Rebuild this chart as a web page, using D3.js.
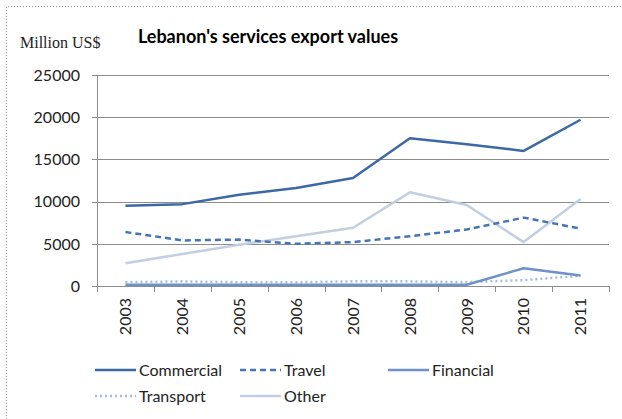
<!DOCTYPE html>
<html>
<head>
<meta charset="utf-8">
<script src="https://cdn.jsdelivr.net/npm/d3@7"></script>
<style>
  body { margin: 0; background: #fff; }
</style>
</head>
<body>
<div id="chart"></div>
<script>
'use strict'

// data
const years = ['2003', '2004', '2005', '2006', '2007', '2008', '2009', '2010', '2011']
const commercial = [9500, 9700, 10800, 11600, 12800, 17500, 16800, 16000, 19700]
const travel = [6400, 5400, 5500, 5000, 5200, 5900, 6700, 8100, 6800]
const financial = [150, 150, 150, 150, 150, 150, 150, 2100, 1250]
const transport = [450, 550, 450, 450, 550, 550, 450, 700, 1200]
const other = [2700, 3800, 4900, 5900, 6900, 11100, 9600, 5200, 10300]
const yTicks = [0, 5000, 10000, 15000, 20000, 25000]

const series = [
    { name: 'Commercial', values: commercial, color: '#3c68a4', dash: null, width: 2.5 },
    { name: 'Travel', values: travel, color: '#4575b4', dash: '6,4', width: 2.5 },
    { name: 'Financial', values: financial, color: '#6e91c8', dash: null, width: 2.5 },
    { name: 'Transport', values: transport, color: '#a5bbdc', dash: '2,3', width: 2.5 },
    { name: 'Other', values: other, color: '#c3cee2', dash: null, width: 2.5 }
]

////////////////////////////////////
//////////// svg setup /////////////
////////////////////////////////////

const svgWidth = 622
const svgHeight = 419
const margin = { left: 97, right: 13, top: 75, bottom: 133 }
const width = svgWidth - margin.left - margin.right
const height = svgHeight - margin.top - margin.bottom

const root = d3.select('#chart')
    .append('svg')
    .attr('width', svgWidth)
    .attr('height', svgHeight)

// dotted frame
root.append('path')
    .attr('d', 'M6.5,' + svgHeight + ' V6.5 H' + svgWidth)
    .attr('fill', 'none')
    .attr('stroke', '#9a9a9a')
    .attr('stroke-dasharray', '1,2')

const svg = root.append('g')
    .attr('transform', 'translate(' + margin.left + ',' + margin.top + ')')

////////////////////////////////////
//////////// Scales ////////////////
////////////////////////////////////

const x = d3.scaleBand().domain(years).range([0, width]).padding(0)
const y = d3.scaleLinear().domain([0, 25000]).range([height, 0])

////////////////////////////////////
//////////// axis //////////////////
////////////////////////////////////

const tickFont = 'Lato, "Liberation Sans", sans-serif'

svg.append('g')
    .selectAll('line')
    .data(yTicks.filter(d => d > 0))
    .join('line')
    .attr('x1', 0)
    .attr('x2', width)
    .attr('y1', d => Math.round(y(d)) + 0.5)
    .attr('y2', d => Math.round(y(d)) + 0.5)
    .attr('stroke', '#8c8c8c')

svg.append('g')
    .selectAll('text')
    .data(yTicks)
    .join('text')
    .attr('x', -17)
    .attr('y', d => y(d))
    .attr('dy', '0.36em')
    .attr('text-anchor', 'end')
    .style('font-family', tickFont)
    .style('font-size', '16px')
    .attr('fill', '#222')
    .text(d => d)

// left axis line
svg.append('line')
    .attr('x1', 0.5).attr('x2', 0.5)
    .attr('y1', 0).attr('y2', height)
    .attr('stroke', '#8c8c8c')

// y ticks (small, left)
svg.append('g')
    .selectAll('line')
    .data(yTicks)
    .join('line')
    .attr('x1', -5).attr('x2', 0)
    .attr('y1', d => Math.round(y(d)) + 0.5)
    .attr('y2', d => Math.round(y(d)) + 0.5)
    .attr('stroke', '#8c8c8c')

// x baseline
svg.append('line')
    .attr('x1', 0).attr('x2', width)
    .attr('y1', Math.round(height) + 0.5).attr('y2', Math.round(height) + 0.5)
    .attr('stroke', '#8c8c8c')

// x boundary ticks
const bounds = years.map(d => x(d)).concat([width])
svg.append('g')
    .selectAll('line')
    .data(bounds)
    .join('line')
    .attr('x1', d => Math.round(d) + 0.5)
    .attr('x2', d => Math.round(d) + 0.5)
    .attr('y1', height)
    .attr('y2', height + 6)
    .attr('stroke', '#8c8c8c')

svg.append('g')
    .selectAll('text')
    .data(years)
    .join('text')
    .attr('transform', d => 'translate(' + (x(d) + x.bandwidth() / 2) + ',' + (height + 12) + ') rotate(-90)')
    .attr('dy', '0.36em')
    .attr('text-anchor', 'end')
    .style('font-family', tickFont)
    .style('font-size', '16px')
    .attr('fill', '#222')
    .text(d => d)

////////////////////////////////////
//////////// lines /////////////////
////////////////////////////////////

const line = d3.line()
    .x((d, i) => x(years[i]) + x.bandwidth() / 2)
    .y(d => y(d))

// draw in back-to-front order like the reference
const drawOrder = ['Transport', 'Financial', 'Other', 'Travel', 'Commercial']
svg.append('g')
    .selectAll('path')
    .data(drawOrder.map(n => series.find(s => s.name === n)))
    .join('path')
    .attr('d', d => line(d.values))
    .attr('fill', 'none')
    .attr('stroke', d => d.color)
    .attr('stroke-width', d => d.width)
    .attr('stroke-dasharray', d => d.dash)
    .attr('stroke-linejoin', 'round')

////////////////////////////////////
//////////// titles ////////////////
////////////////////////////////////

root.append('text')
    .attr('x', 268)
    .attr('y', 43)
    .attr('text-anchor', 'middle')
    .style('font-family', tickFont)
    .style('font-weight', '700')
    .style('font-size', '18px')
    .attr('fill', '#000')
    .text("Lebanon's services export values")

root.append('text')
    .attr('x', 20)
    .attr('y', 48)
    .style('font-family', '"Liberation Serif", serif')
    .style('font-size', '16px')
    .attr('fill', '#222')
    .text('Million US$')

////////////////////////////////////
//////////// legend ////////////////
////////////////////////////////////

const legendPos = [
    { x: 95, y: 370 }, { x: 240, y: 370 }, { x: 388, y: 370 },
    { x: 95, y: 396 }, { x: 240, y: 396 }
]

const legend = root.append('g')
    .selectAll('g')
    .data(series)
    .join('g')
    .attr('transform', (d, i) => 'translate(' + legendPos[i].x + ',' + legendPos[i].y + ')')

legend.append('line')
    .attr('x1', 0).attr('x2', 41)
    .attr('y1', 0).attr('y2', 0)
    .attr('stroke', d => d.color)
    .attr('stroke-width', d => d.width)
    .attr('stroke-dasharray', d => d.dash)

legend.append('text')
    .attr('x', 44)
    .attr('dy', '0.36em')
    .style('font-family', tickFont)
    .style('font-size', '16px')
    .attr('fill', '#222')
    .text(d => d.name)
</script>
</body>
</html>
